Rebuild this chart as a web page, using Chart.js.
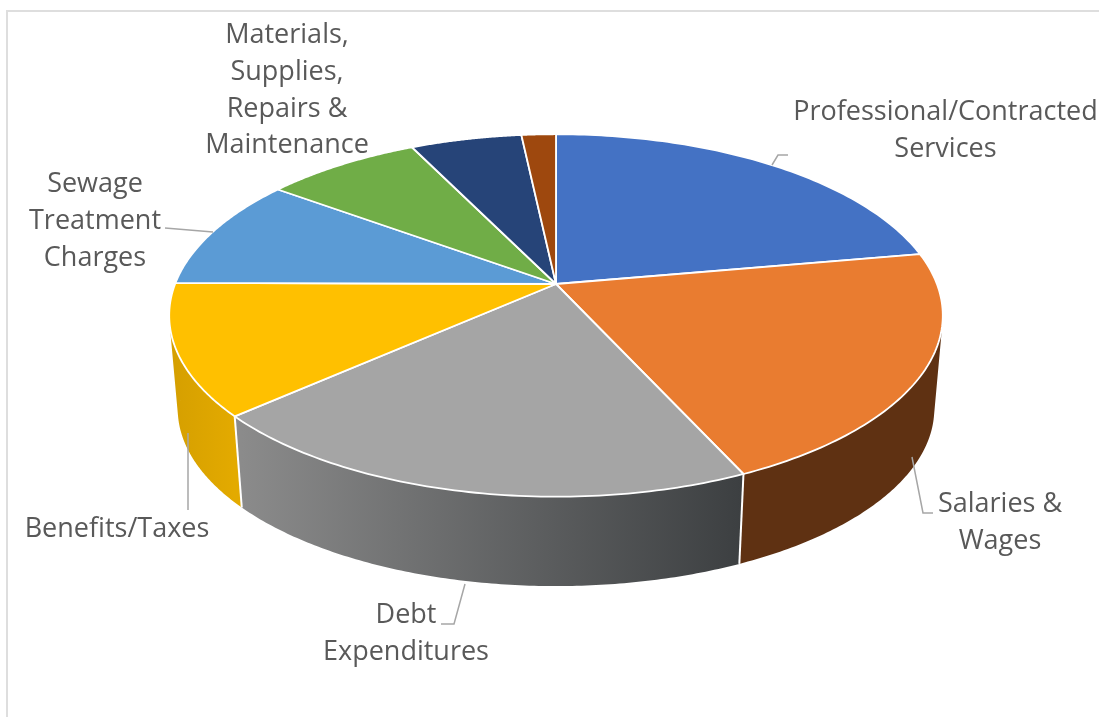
<!DOCTYPE html>
<html>
<head>
<meta charset="utf-8">
<title>Expenses</title>
<script src="https://cdn.jsdelivr.net/npm/chart.js@4/dist/chart.umd.min.js"></script>
<style>
  html, body { margin: 0; background: #fff; overflow: hidden; }
  #frame { position: absolute; left: 6px; top: 10px; width: 1093px; height: 707px; box-sizing: border-box;
           border-left: 2px solid #dedede; border-top: 2px solid #dedede; }
  #grafico { position: absolute; left: 0; top: 0; }
</style>
</head>
<body>
<div id="frame"></div>
<canvas id="grafico" width="1099" height="717"></canvas>
<script>
const categorias = [
  'Professional/Contracted Services',
  'Salaries & Wages',
  'Debt Expenditures',
  'Benefits/Taxes',
  'Sewage Treatment Charges',
  'Materials, Supplies, Repairs & Maintenance',
  'Other',
  'Miscellaneous'
];
const valores = [22.2, 21.0, 20.2, 11.7, 10.0, 7.7, 5.5, 1.7];
const coresTopo = ['#4472c4', '#e97c30', '#a5a5a5', '#ffc000', '#5b9bd5', '#70ad47', '#264478', '#9e480e'];

// side wall colours, left and right end of a horizontal gradient
const coresLado = {
  1: ['#5f3112', '#5f3112'],
  2: ['#8c8c8c', '#3c3f41'],
  3: ['#d6a000', '#e3aa00']
};

// text lines and leader lines of each label
const rotulos = [
  { linhas: ['Professional/Contracted', 'Services'], x: 945.5, y: 120, guia: [[772, 165], [778, 155], [788, 155]] },
  { linhas: ['Salaries &', 'Wages'], x: 1000, y: 512, guia: [[912, 457], [923, 513], [933, 513]] },
  { linhas: ['Debt', 'Expenditures'], x: 406, y: 623, guia: [[465, 584], [454, 624], [441, 624]] },
  { linhas: ['Benefits/Taxes'], x: 117, y: 537, guia: [[188, 433], [188, 510]] },
  { linhas: ['Sewage', 'Treatment', 'Charges'], x: 95, y: 192, guia: [[165, 228], [213, 232]] },
  { linhas: ['Materials,', 'Supplies,', 'Repairs &', 'Maintenance'], x: 287, y: 43, guia: [] }
];
const alturaLinha = 36.8;

// tilted disc: horizontal and vertical stretch, perspective and thickness, relative to the arc radius
const ESCALA_X = 2.037;
const ESCALA_Y = 0.94;
const PERSPECTIVA = 0.1736;
const ENCOLHE_BASE = 0.978;
const ALTURA = 0.503;

function projetar(arco, angulo, base) {
  const R = arco.outerRadius;
  const u = Math.cos(angulo);
  const v = Math.sin(angulo);
  const w = 1 - PERSPECTIVA * v;
  let x = ESCALA_X * R * u / w;
  let y = ESCALA_Y * R * v / w;
  if (base) {
    x *= ENCOLHE_BASE;
    y = y * ENCOLHE_BASE + ALTURA * R;
  }
  return [arco.x + x, arco.y + y];
}

function areaSinal(q) {
  let s = 0;
  q.forEach((p, i) => {
    const n = q[(i + 1) % q.length];
    s += p[0] * n[1] - n[0] * p[1];
  });
  return s;
}

// one path of strips, all wound the same way, so the silhouette follows the sweep of the rim
function desenharLado(ctx, arco, indice) {
  const cores = coresLado[indice];
  const a = arco.startAngle;
  const b = arco.endAngle;
  const xs = [projetar(arco, a, false)[0], projetar(arco, b, false)[0]];
  const grad = ctx.createLinearGradient(Math.min(...xs), 0, Math.max(...xs), 0);
  grad.addColorStop(0, cores[0]);
  grad.addColorStop(1, cores[1]);
  ctx.beginPath();
  const passos = 120;
  for (let i = 0; i < passos; i++) {
    const a1 = a + (b - a) * i / passos;
    const a2 = a + (b - a) * (i + 1) / passos;
    const q = [projetar(arco, a1, false), projetar(arco, a2, false),
               projetar(arco, a2, true), projetar(arco, a1, true)];
    if (areaSinal(q) < 0) q.reverse();
    q.forEach((p, j) => j ? ctx.lineTo(p[0], p[1]) : ctx.moveTo(p[0], p[1]));
    ctx.closePath();
  }
  ctx.fillStyle = grad;
  ctx.fill('nonzero');
}

function desenharDivisaoLado(ctx, arco) {
  const t = projetar(arco, arco.endAngle, false);
  const f = projetar(arco, arco.endAngle, true);
  ctx.beginPath();
  ctx.moveTo(t[0], t[1]);
  ctx.lineTo(f[0], f[1]);
  ctx.strokeStyle = '#fff';
  ctx.lineWidth = 2;
  ctx.stroke();
}

function desenharTopo(ctx, arco) {
  const passos = 80;
  ctx.beginPath();
  ctx.moveTo(arco.x, arco.y);
  for (let i = 0; i <= passos; i++) {
    const p = projetar(arco, arco.startAngle + (arco.endAngle - arco.startAngle) * i / passos, false);
    ctx.lineTo(p[0], p[1]);
  }
  ctx.closePath();
  ctx.fillStyle = arco.options.backgroundColor;
  ctx.fill();
  ctx.strokeStyle = '#fff';
  ctx.lineWidth = 1.8;
  ctx.lineJoin = 'round';
  ctx.stroke();
}

// replaces the flat arcs with the thick tilted disc, still using the arcs' computed angles
const discoInclinado = {
  id: 'discoInclinado',
  beforeDatasetsDraw(chart) {
    const ctx = chart.ctx;
    const arcos = chart.getDatasetMeta(0).data;
    ctx.save();
    arcos.forEach((arco, i) => {
      if (coresLado[i]) desenharLado(ctx, arco, i);
    });
    arcos.forEach((arco, i) => {
      if (coresLado[i] && coresLado[i + 1]) desenharDivisaoLado(ctx, arco);
    });
    arcos.forEach(arco => desenharTopo(ctx, arco));
    ctx.restore();
    return false;
  },
  afterDraw(chart) {
    const ctx = chart.ctx;
    ctx.save();
    ctx.font = '27px "Open Sans"';
    ctx.fillStyle = '#595959';
    ctx.textAlign = 'center';
    ctx.strokeStyle = '#a6a6a6';
    ctx.lineWidth = 1.5;
    rotulos.forEach(r => {
      r.linhas.forEach((linha, i) => ctx.fillText(linha, r.x, r.y + i * alturaLinha));
      ctx.beginPath();
      r.guia.forEach(p => ctx.lineTo(p[0], p[1]));
      ctx.stroke();
    });
    ctx.restore();
  }
};

new Chart(document.getElementById('grafico'), {
  type: 'pie',
  data: {
    labels: categorias,
    datasets: [{ data: valores, backgroundColor: coresTopo }]
  },
  options: {
    responsive: false,
    animation: false,
    layout: { padding: { left: 13, right: 0, top: 96, bottom: 245 } },
    plugins: { legend: { display: false }, tooltip: { enabled: false } }
  },
  plugins: [discoInclinado]
});
</script>
</body>
</html>
